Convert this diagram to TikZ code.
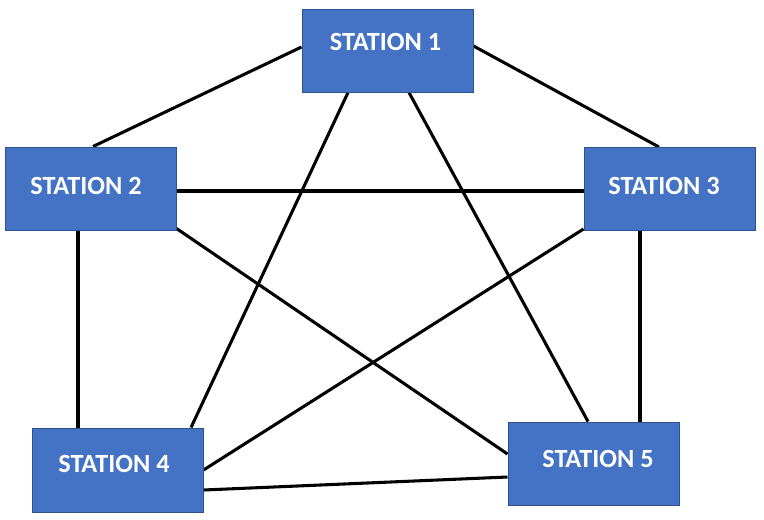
\documentclass[tikz,border=0pt]{standalone}
\usepackage{fontspec}
\setmainfont{Carlito}
\usetikzlibrary{calc,backgrounds}
\definecolor{boxfill}{HTML}{4472C4}
\definecolor{boxline}{HTML}{2F528F}
\tikzset{
  stationbox/.style={draw=boxline, line width=0.75pt, fill=boxfill, minimum width=128.25pt, minimum height=62.25pt, inner sep=0pt},
  stationtext/.style={text=white, font=\fontsize{19.7}{21}\bfseries\selectfont, inner sep=0pt},
  link/.style={draw=black, line width=2.3pt}
}
\begin{document}
\begin{tikzpicture}[x=0.75pt, y=-0.75pt]
\useasboundingbox (0,0) rectangle (764,519);
\node[stationbox] (s1) at (387.5,50.5) {};
\node[stationbox] (s2) at (90.5,188.5) {};
\node[stationbox] (s3) at (669.5,189) {};
\node[stationbox, minimum height=63pt] (s4) at (117.5,470) {};
\node[stationbox] (s5) at (593.5,463.5) {};
\node[stationtext] (t1) at (385.5,42) {STATION 1};
\node[stationtext] (t2) at (86,186) {STATION 2};
\node[stationtext] (t3) at (664,186) {STATION 3};
\node[stationtext] (t4) at (114,464) {STATION 4};
\node[stationtext] (t5) at (598,459) {STATION 5};
\begin{scope}[on background layer]
\draw[link] ($(s1.west)+(0,-3.5)$) -- ($(s2.north)+(2.5,0)$);
\draw[link] ($(s1.east)+(0,-4.5)$) -- ($(s3.north)+(-10.5,0)$);
\draw[link] ($(s1.south)+(-39.5,0)$) -- ($(s4.north)+(73.5,0)$);
\draw[link] ($(s1.south)+(21.5,0)$) -- ($(s5.north)+(-5.5,0)$);
\draw[link] ($(s2.east)+(0,2.5)$) -- ($(s3.west)+(0,2)$);
\draw[link] ($(s2.south)+(-12.5,0)$) -- ($(s4.north)+(-39.5,0)$);
\draw[link] ($(s2.south east)+(0,-2)$) -- ($(s5.west)+(0,-9.5)$);
\draw[link] ($(s3.south west)+(0,-2)$) -- (s4.east);
\draw[link] ($(s3.south)+(-29.5,0)$) -- ($(s5.north)+(46.5,0)$);
\draw[link] ($(s4.east)+(0,20)$) -- ($(s5.west)+(0,13.5)$);
\end{scope}
\end{tikzpicture}
\end{document}
